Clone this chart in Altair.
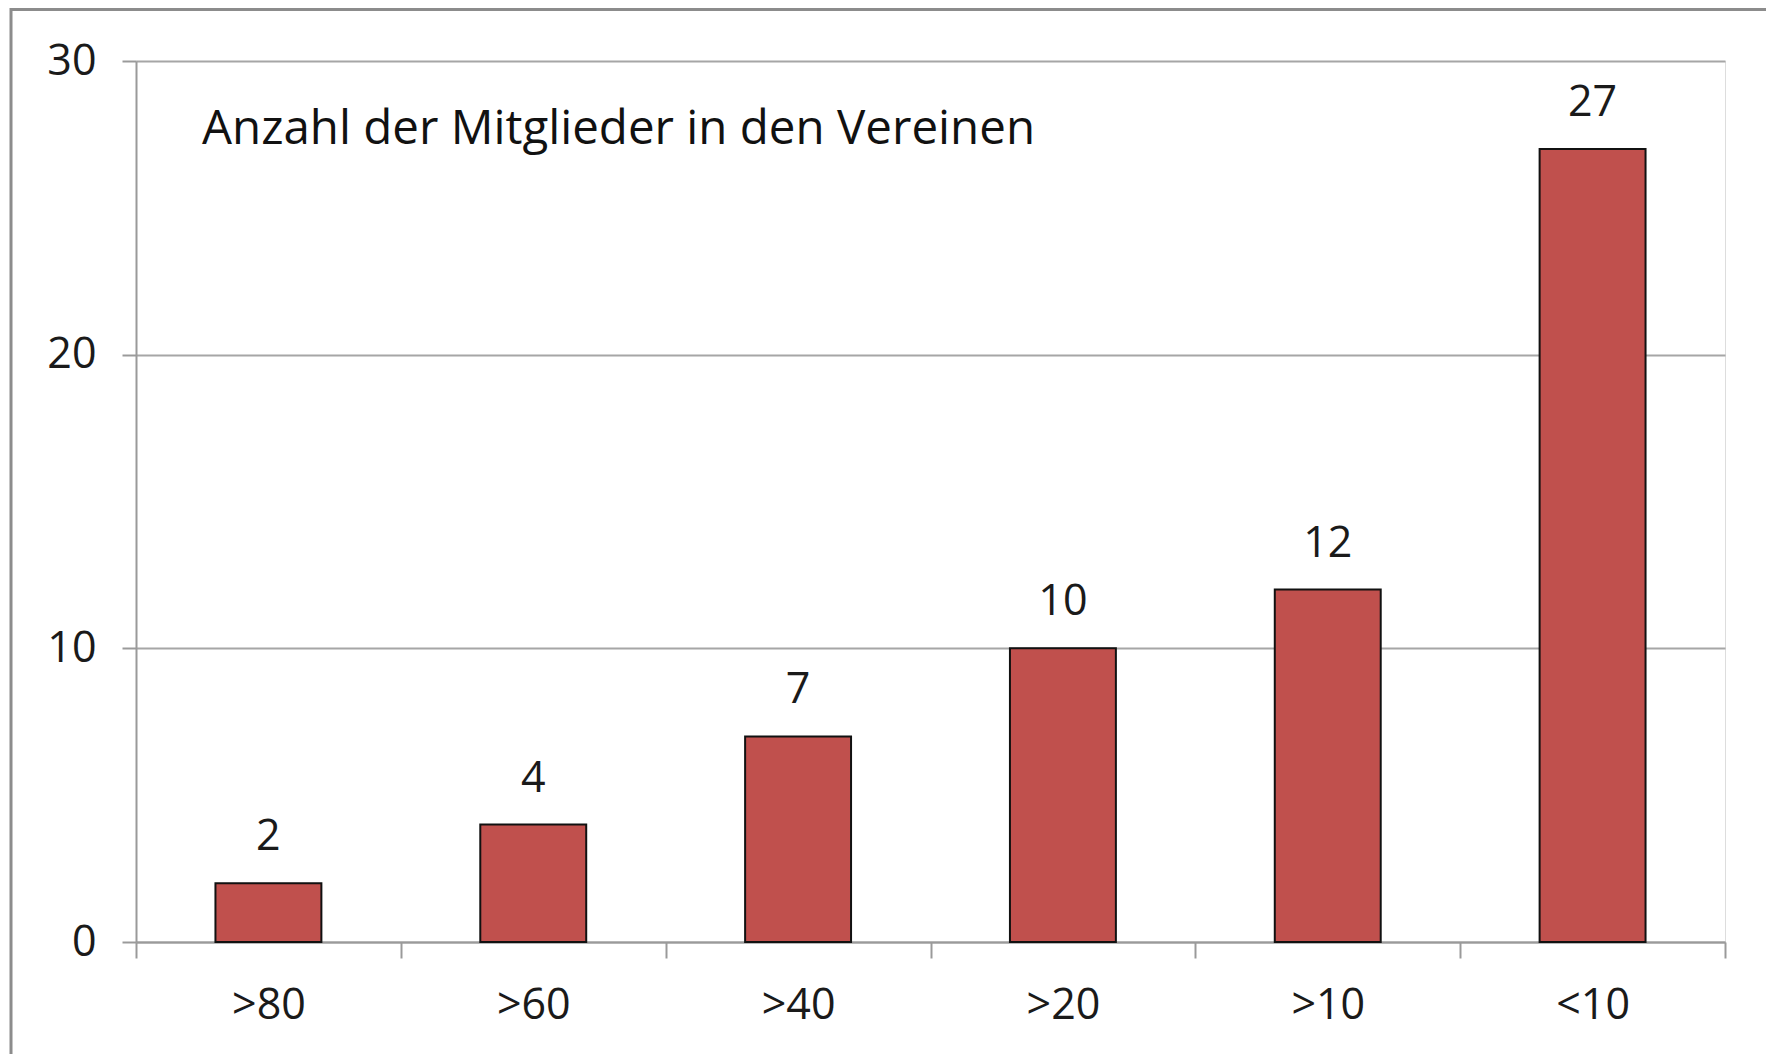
import altair as alt
import pandas as pd

categories = [">80", ">60", ">40", ">20", ">10", "<10"]
values = [2, 4, 7, 10, 12, 27]
y_ticks = [0, 10, 20, 30]
title_text = "Anzahl der Mitglieder in den Vereinen"

df = pd.DataFrame({"cat": categories, "val": values})

FONT = "Open Sans"
W, H = 1589, 881

x_enc = alt.X("cat:N", sort=categories, title=None,
              scale=alt.Scale(paddingInner=0, paddingOuter=0),
              axis=alt.Axis(tickBand="extent", tickSize=16, tickColor="#9a9a9a",
                            tickWidth=2, domainColor="#9a9a9a", domainWidth=2,
                            labelFont=FONT, labelFontSize=43, labelColor="#1a1a1a",
                            labelPadding=26, labelAngle=0, grid=False))
y_enc = alt.Y("val:Q", title=None,
              scale=alt.Scale(domain=[0, 30], nice=False),
              axis=alt.Axis(values=y_ticks, tickSize=14, tickColor="#9a9a9a",
                            tickWidth=2, domainColor="#9a9a9a", domainWidth=2,
                            gridColor="#a6a6a6", gridWidth=2,
                            labelFont=FONT, labelFontSize=43, labelColor="#1a1a1a",
                            labelPadding=26))

base = alt.Chart(df)

bars = base.mark_bar(color="#C0504D", stroke="#111111", strokeWidth=2,
                     width=alt.RelativeBandSize(0.4)).encode(x=x_enc, y=y_enc)

labels = base.mark_text(font=FONT, fontSize=43, color="#1a1a1a", dy=-24,
                        baseline="bottom").encode(
    x=alt.X("cat:N", sort=categories), y="val:Q", text="val:Q")

title = alt.Chart(pd.DataFrame({"t": [title_text]})).mark_text(
    font=FONT, fontSize=47.5, color="#111111", align="left", baseline="alphabetic"
).encode(x=alt.value(66), y=alt.value(83), text="t:N")

border = alt.Chart(pd.DataFrame({"a": [0]})).mark_rect(
    fill=None, stroke="#8c8c8c", strokeWidth=3
).encode(x=alt.value(-125), x2=alt.value(W + 200), y=alt.value(-51.5), y2=alt.value(H + 300))

chart = alt.layer(border, bars, labels, title).properties(
    width=W, height=H,
    autosize=alt.AutoSizeParams(type="none"),
    padding={"left": 128, "top": 53, "right": 41, "bottom": 112},
).configure_view(stroke=None).configure(background="white")

chart.save("out.html", embed_options={"renderer": "svg", "actions": False})
